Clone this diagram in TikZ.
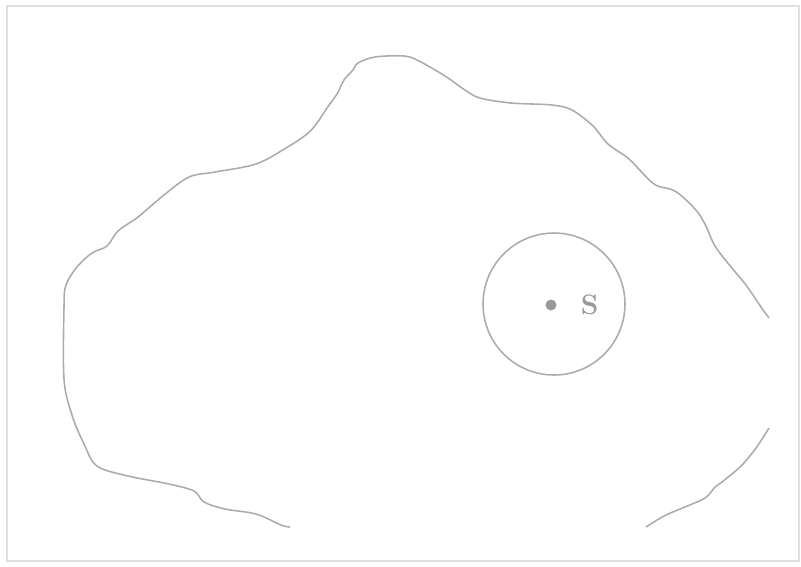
\documentclass[tikz,border=0pt]{standalone}
\usepackage{tikz}
\usetikzlibrary{positioning}

\begin{document}
\begin{tikzpicture}[
    x=0.02cm, y=-0.02cm,
    outline/.style={draw=gray!65, line width=0.9pt, line join=round},
    frameline/.style={draw=gray!25, line width=1.6pt},
    zone/.style={
        draw=gray!65,
        line width=0.9pt,
        circle,
        minimum size=2.84cm,
        inner sep=0pt
    },
    srcdot/.style={circle, fill=gray!80, inner sep=0pt, minimum size=0.22cm},
    srclabel/.style={text=gray!80, font=\fontsize{16}{18}\selectfont\bfseries, inner sep=0pt}
]

% ------------------------
% Page and frame
% ------------------------
\useasboundingbox (0,0) rectangle (801,566);
\draw[frameline] (7,6) rectangle (799,561);

% ------------------------
% Irregular region (upper and left part)
% ------------------------
\draw[outline] plot[smooth, tension=0.55] coordinates {
    (290,527) (281,525) (256,514) (225,509) (204,502) (194,491)
    (169,484) (128,476) (97,466) (84,444) (72,415) (64,379)
    (64,307) (66,285) (77,267) (92,253) (107,246) (118,231)
    (138,217) (164,195) (189,177) (215,172) (256,164) (286,148)
    (307,134) (317,123) (327,108) (337,94) (344,80) (353,70)
    (358,63) (375,57) (404,56) (419,61) (445,76) (465,90)
    (480,98) (511,103) (552,105) (572,110) (593,126) (608,144)
    (629,159) (654,184) (675,191) (695,209) (705,224) (715,246)
    (731,267) (746,285) (761,307) (769,318)
};

% ------------------------
% Irregular region (lower right part)
% ------------------------
\draw[outline] plot[smooth, tension=0.55] coordinates {
    (769,428) (756,448) (741,466) (722,482) (715,487) (705,498)
    (680,509) (664,516) (646,527)
};

% ------------------------
% Circle round the source
% ------------------------
\node[zone] (ring) at (554,304) {};
\node[srcdot] (src) at (551,305) {};
\node[srclabel, right=22pt of src.center, anchor=center] (slabel) {S};

\end{tikzpicture}
\end{document}
